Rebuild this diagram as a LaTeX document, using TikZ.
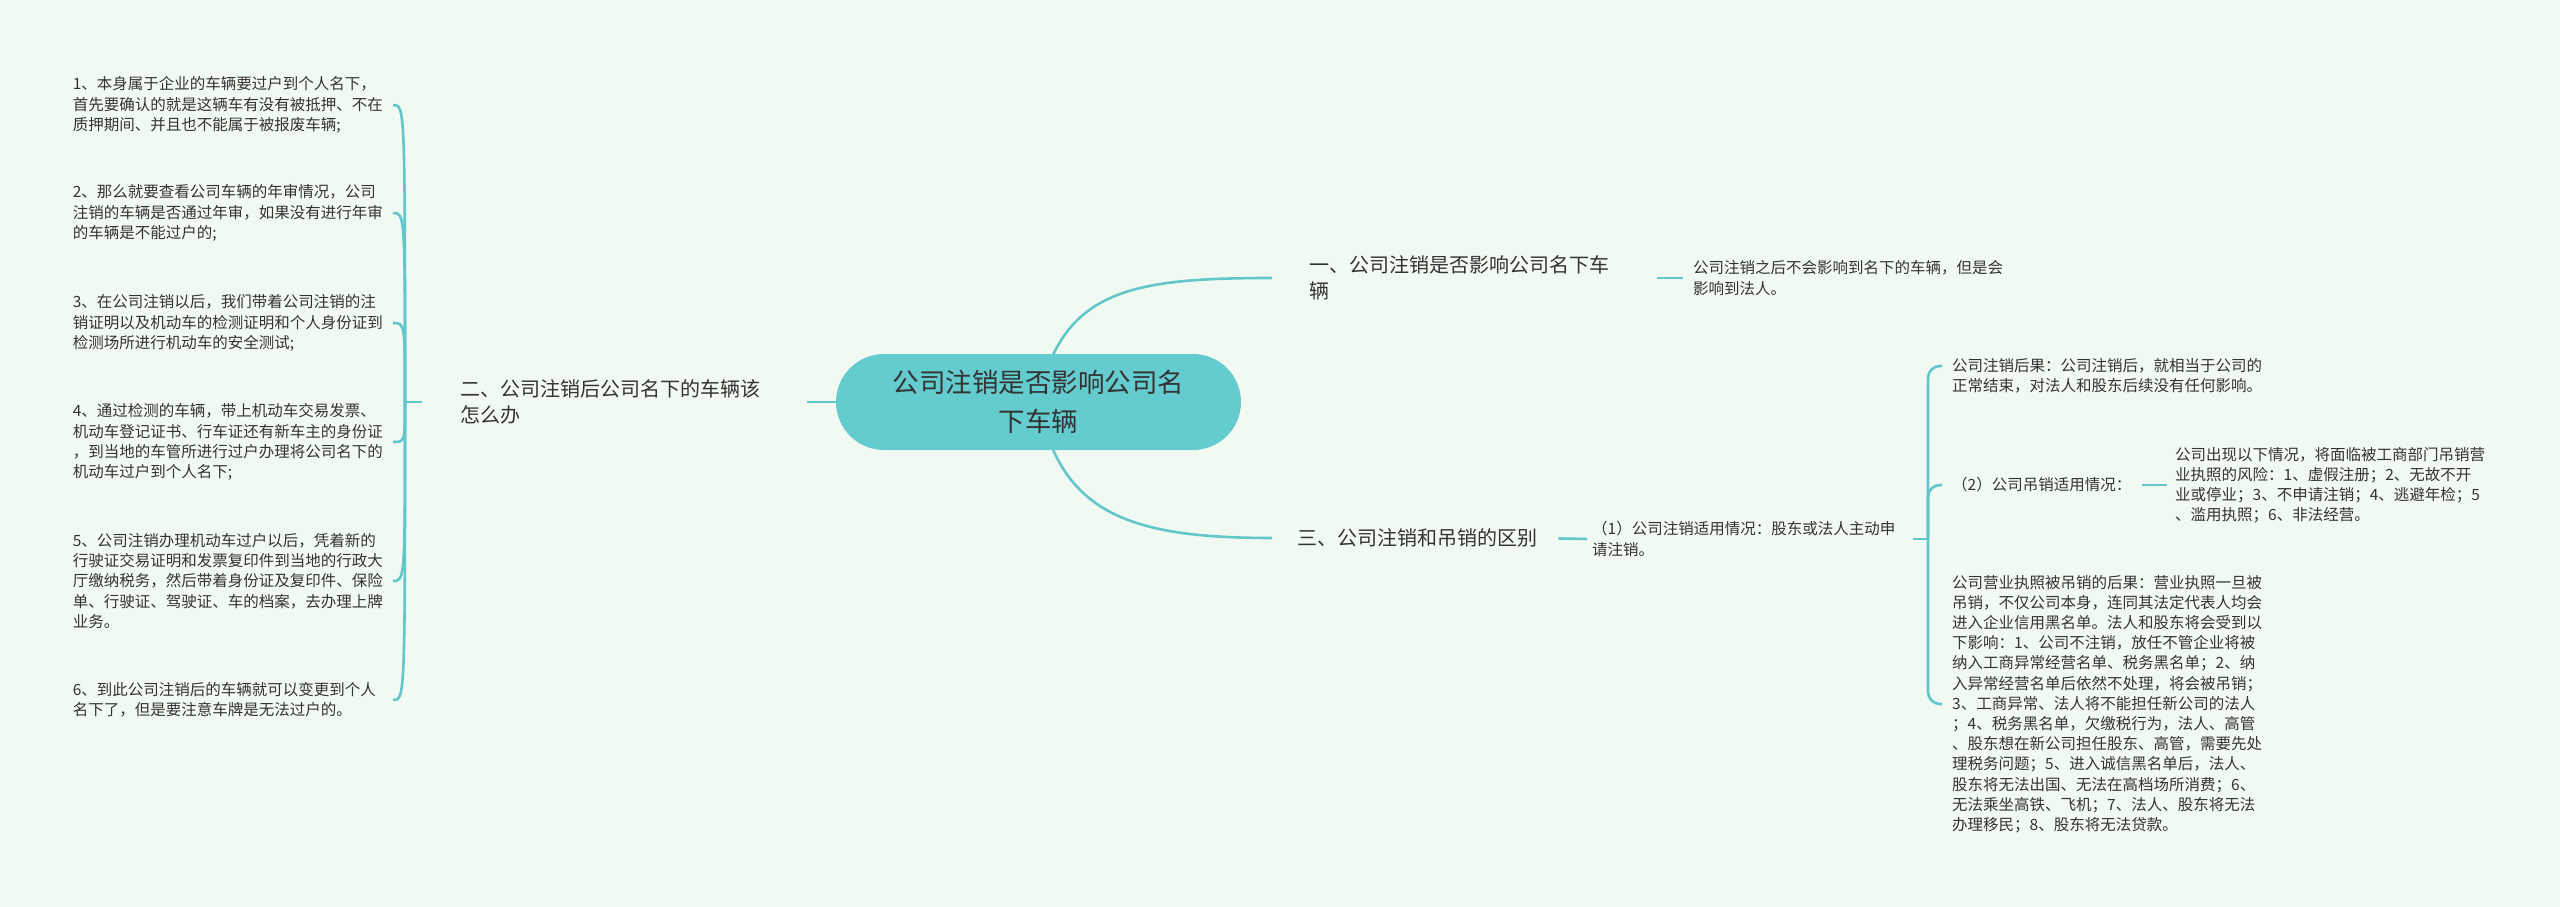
\documentclass[tikz,border=0pt]{standalone}
\usepackage{fontspec}
\setmainfont{Noto Sans CJK SC}
\definecolor{bgc}{HTML}{F1FAF2}
\definecolor{linec}{HTML}{62C6CA}
\definecolor{rootc}{HTML}{64CBCF}
\definecolor{txtc}{HTML}{333333}
\pgfdeclarelayer{bgl}
\pgfdeclarelayer{lines}
\pgfsetlayers{bgl,lines,main}
\tikzset{
  rootbox/.style={fill=rootc, rounded corners=48pt, minimum width=405pt, minimum height=96pt,
    align=center, inner sep=0pt, text=txtc, font=\fontsize{26.5}{39}\selectfont},
  brbox/.style={anchor=west, inner sep=0pt, align=left, text=txtc, font=\fontsize{20}{26.5}\selectfont},
  lleaf/.style={anchor=east, text width=312pt, inner xsep=8pt, inner ysep=0pt, align=left,
    text=txtc, font=\fontsize{15.5}{20.2}\selectfont},
  rleaf/.style={anchor=west, inner xsep=10pt, inner ysep=0pt, align=left,
    text=txtc, font=\fontsize{15.5}{20.2}\selectfont},
  conn/.style={draw=linec, line width=2.6pt}
}
\begin{document}
\begin{tikzpicture}[x=1pt,y=-1pt]
\begin{pgfonlayer}{bgl}
\fill[bgc] (0,0) rectangle (2560,907);
\end{pgfonlayer}
\useasboundingbox (0,0) rectangle (2560,907);

% root
\node[rootbox] (root) at (1038.5,402) {公司注销是否影响公司名\\下车辆};

% level 1
\node[brbox] (lb) at (460,402) {二、公司注销后公司名下的车辆该\\怎么办};
\node[brbox] (b1) at (1309,278) {一、公司注销是否影响公司名下车\\辆};
\node[brbox] (b3) at (1297,538) {三、公司注销和吊销的区别};

% left leaves
\node[lleaf] (l1) at (393,105) {1、本身属于企业的车辆要过户到个人名下，\\首先要确认的就是这辆车有没有被抵押、不在\\质押期间、并且也不能属于被报废车辆;};
\node[lleaf] (l2) at (393,213) {2、那么就要查看公司车辆的年审情况，公司\\注销的车辆是否通过年审，如果没有进行年审\\的车辆是不能过户的;};
\node[lleaf] (l3) at (393,323) {3、在公司注销以后，我们带着公司注销的注\\销证明以及机动车的检测证明和个人身份证到\\检测场所进行机动车的安全测试;};
\node[lleaf] (l4) at (393,442) {4、通过检测的车辆，带上机动车交易发票、\\机动车登记证书、行车证还有新车主的身份证\\，到当地的车管所进行过户办理将公司名下的\\机动车过户到个人名下;};
\node[lleaf] (l5) at (393,581) {5、公司注销办理机动车过户以后，凭着新的\\行驶证交易证明和发票复印件到当地的行政大\\厅缴纳税务，然后带着身份证及复印件、保险\\单、行驶证、驾驶证、车的档案，去办理上牌\\业务。};
\node[lleaf] (l6) at (393,700) {6、到此公司注销后的车辆就可以变更到个人\\名下了，但是要注意车牌是无法过户的。};

% right leaves
\node[rleaf] (bl1) at (1683,278) {公司注销之后不会影响到名下的车辆，但是会\\影响到法人。};
\node[rleaf, inner xsep=5pt] (c1) at (1587,539) {（1）公司注销适用情况：股东或法人主动申\\请注销。};
\node[rleaf] (r1) at (1942,376) {公司注销后果：公司注销后，就相当于公司的\\正常结束，对法人和股东后续没有任何影响。};
\node[rleaf] (r2) at (1942,485) {（2）公司吊销适用情况：};
\node[rleaf, inner xsep=8pt] (r2a) at (2167,485) {公司出现以下情况，将面临被工商部门吊销营\\业执照的风险：1、虚假注册；2、无故不开\\业或停业；3、不申请注销；4、逃避年检；5\\、滥用执照；6、非法经营。};
\node[rleaf] (r3) at (1942,704) {公司营业执照被吊销的后果：营业执照一旦被\\吊销，不仅公司本身，连同其法定代表人均会\\进入企业信用黑名单。法人和股东将会受到以\\下影响：1、公司不注销，放任不管企业将被\\纳入工商异常经营名单、税务黑名单；2、纳\\入异常经营名单后依然不处理，将会被吊销；\\3、工商异常、法人将不能担任新公司的法人\\；4、税务黑名单，欠缴税行为，法人、高管\\、股东想在新公司担任股东、高管，需要先处\\理税务问题；5、进入诚信黑名单后，法人、\\股东将无法出国、无法在高档场所消费；6、\\无法乘坐高铁、飞机；7、法人、股东将无法\\办理移民；8、股东将无法贷款。};

\coordinate (ls) at (405,402);
\coordinate (bk) at (1928,539);

\begin{pgfonlayer}{lines}
\draw[conn] (root.center) .. controls +(22,-112) and +(-142,0) .. ([xshift=-37pt]b1.west);
\draw[conn] (root.center) .. controls +(22,112) and +(-142,0) .. ([xshift=-25pt]b3.west);
\draw[conn, shorten >=47pt] (root.center) -- (lb.east);
\draw[conn, shorten <=38pt] (lb.west) -- (ls);
\foreach \n in {l1,l2,l3,l4,l5,l6}
  \draw[conn] (ls) .. controls (ls |- \n.east) .. (\n.east);
\draw[conn, shorten <=48pt] (b1.east) -- (bl1.west);
\draw[conn, shorten <=21pt] (b3.east) -- (c1.west);
\draw[conn, shorten <=12pt] (c1.east) -- (bk);
\draw[conn, rounded corners=12pt] (bk) |- ([yshift=10pt]r1.west);
\draw[conn, rounded corners=12pt] (bk) |- (r2.west);
\draw[conn, rounded corners=12pt] (bk) |- (r3.west);
\draw[conn] (r2.east) -- (r2a.west);
\end{pgfonlayer}
\end{tikzpicture}
\end{document}
